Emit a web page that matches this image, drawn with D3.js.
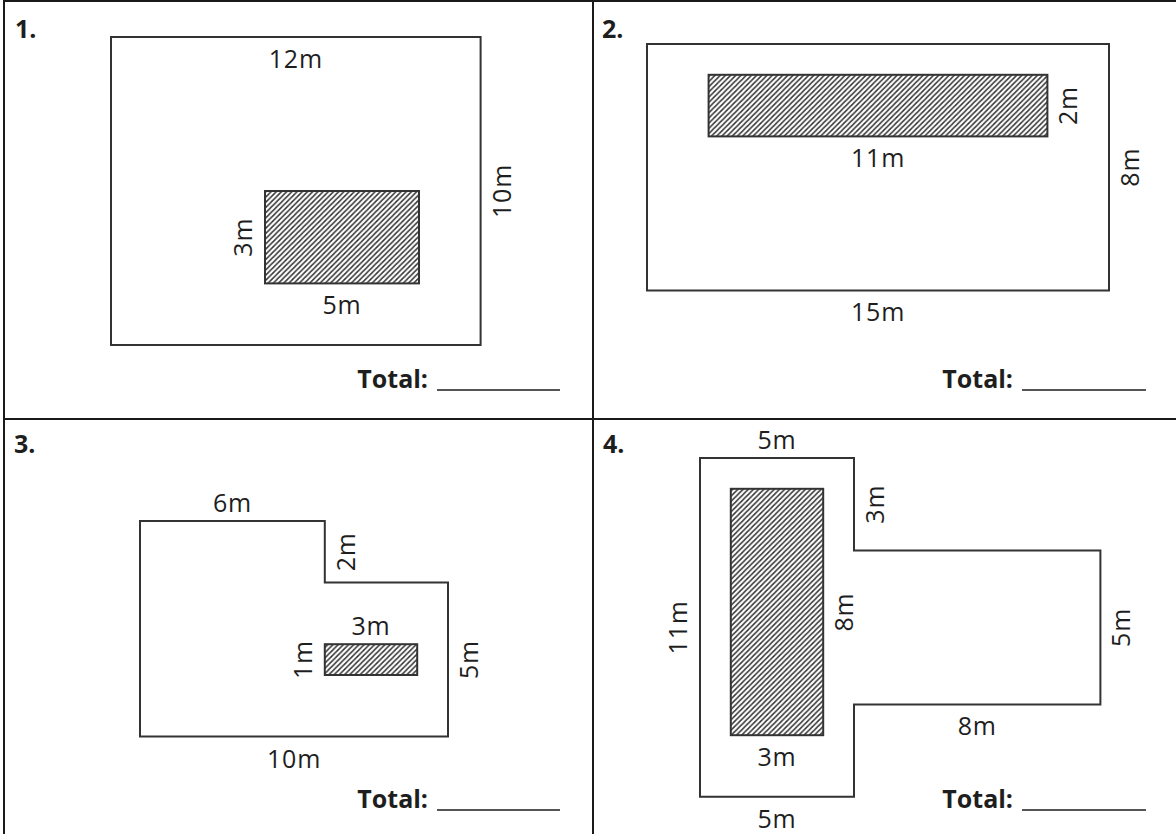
<!DOCTYPE html>
<html>
<head>
<meta charset="utf-8">
<script src="https://cdn.jsdelivr.net/npm/d3@7/dist/d3.min.js"></script>
<style>
  html, body { margin: 0; padding: 0; background: #fff; }
  svg { display: block; }
  text { font-family: "Open Sans", "Noto Sans", sans-serif; fill: #1e1e1e; }
</style>
</head>
<body>
<svg id="chart" width="1176" height="834"></svg>
<script>
// ---------- data ----------
const panelNumbers = ["1.", "2.", "3.", "4."];

// outline vertices of each shape, in metres
const outerShapes = [
  [[0,0],[12,0],[12,10],[0,10]],
  [[0,0],[15,0],[15,8],[0,8]],
  [[0,0],[6,0],[6,2],[10,2],[10,7],[0,7]],
  [[0,0],[5,0],[5,3],[13,3],[13,8],[5,8],[5,11],[0,11]]
];

// shaded rectangles [x, y, width, height], in metres
const hatchRects = [
  [5, 5, 5, 3],
  [2, 1, 11, 2],
  [6, 4, 3, 1],
  [1, 1, 3, 8]
];

// dimension labels: [text, x (m), y (m), side of edge]
const dimLabels = [
  [["12m", 6, 0, "below"], ["10m", 12, 5, "right"], ["3m", 5, 6.5, "left"], ["5m", 7.5, 8, "below"]],
  [["11m", 7.5, 3, "below"], ["2m", 13, 2, "right"], ["8m", 15, 4, "right"], ["15m", 7.5, 8, "below"]],
  [["6m", 3, 0, "above"], ["2m", 6, 1, "right"], ["3m", 7.5, 4, "above"], ["1m", 6, 4.5, "left"],
   ["5m", 10, 4.5, "right"], ["10m", 5, 7, "below"]],
  [["5m", 2.5, 0, "above"], ["3m", 5, 1.5, "right"], ["8m", 4, 5, "right"], ["5m", 13, 5.5, "right"],
   ["11m", 0, 5.5, "left"], ["3m", 2.5, 9, "below"], ["8m", 9, 8, "below"], ["5m", 2.5, 11, "below"]]
];

const totalLabel = "Total:";

// ---------- layout ----------
const W = 1176, H = 834;
const pxPerMetre = 30.8;
const origins = [[111, 37], [647, 44], [140, 521], [700, 458]];
const numberPos = [[15, 38], [602, 38], [14, 453], [603, 453]];
const totalPos = [[428, 388, 437, 560, 390], [1013, 388, 1022, 1146, 390],
                  [428, 808, 437, 560, 810], [1013, 808, 1022, 1146, 810]];
const sideOffset = { below: [0, 21], above: [0, -19], right: [20, 0], left: [-23, 0] };

const svg = d3.select("#chart");

// hatch pattern
const defs = svg.append("defs");
const hw = 5.2;
const pat = defs.append("pattern")
  .attr("id", "hatch")
  .attr("patternUnits", "userSpaceOnUse")
  .attr("width", hw).attr("height", hw);
pat.append("rect").attr("width", hw).attr("height", hw).attr("fill", "#fff");
pat.append("path")
  .attr("d", `M0,${hw} L${hw},0 M${-hw/2},${hw/2} L${hw/2},${-hw/2} M${hw/2},${hw*1.5} L${hw*1.5},${hw/2}`)
  .attr("stroke", "#333").attr("stroke-width", 1.5);

// frame
svg.append("rect")
  .attr("x", 4).attr("y", 1).attr("width", W + 10).attr("height", H + 10)
  .attr("fill", "none").attr("stroke", "#1a1a1a").attr("stroke-width", 2);
svg.append("line").attr("x1", 593).attr("x2", 593).attr("y1", 1).attr("y2", H)
  .attr("stroke", "#1a1a1a").attr("stroke-width", 2);
svg.append("line").attr("x1", 4).attr("x2", W).attr("y1", 419).attr("y2", 419)
  .attr("stroke", "#1a1a1a").attr("stroke-width", 2);

const line = d3.line().curve(d3.curveLinearClosed);

outerShapes.forEach((shape, i) => {
  const [ox, oy] = origins[i];
  const x = d3.scaleLinear().domain([0, 1]).range([ox, ox + pxPerMetre]);
  const y = d3.scaleLinear().domain([0, 1]).range([oy, oy + pxPerMetre]);
  const g = svg.append("g");

  g.append("path")
    .attr("d", line(shape.map(p => [x(p[0]), y(p[1])])))
    .attr("fill", "none").attr("stroke", "#333").attr("stroke-width", 2)
    .attr("stroke-linejoin", "miter");

  const r = hatchRects[i];
  g.append("rect")
    .attr("x", x(r[0])).attr("y", y(r[1]))
    .attr("width", x(r[0] + r[2]) - x(r[0])).attr("height", y(r[1] + r[3]) - y(r[1]))
    .attr("fill", "url(#hatch)").attr("stroke", "#333").attr("stroke-width", 2);

  dimLabels[i].forEach(d => {
    const off = sideOffset[d[3]];
    const px = x(d[1]) + off[0], py = y(d[2]) + off[1];
    const vertical = d[3] === "left" || d[3] === "right";
    g.append("text")
      .attr("transform", `translate(${px},${py})` + (vertical ? " rotate(-90)" : ""))
      .attr("text-anchor", "middle")
      .attr("dominant-baseline", "central")
      .attr("font-size", 25)
      .attr("letter-spacing", 0.8)
      .text(d[0]);
  });

  svg.append("text")
    .attr("x", numberPos[i][0]).attr("y", numberPos[i][1])
    .attr("font-size", 25).attr("font-weight", 700)
    .text(panelNumbers[i]);

  const t = totalPos[i];
  svg.append("text")
    .attr("x", t[0]).attr("y", t[1])
    .attr("text-anchor", "end")
    .attr("font-size", 25).attr("font-weight", 700)
    .text(totalLabel);
  svg.append("line")
    .attr("x1", t[2]).attr("x2", t[3]).attr("y1", t[4]).attr("y2", t[4])
    .attr("stroke", "#555").attr("stroke-width", 2);
});
</script>
</body>
</html>
